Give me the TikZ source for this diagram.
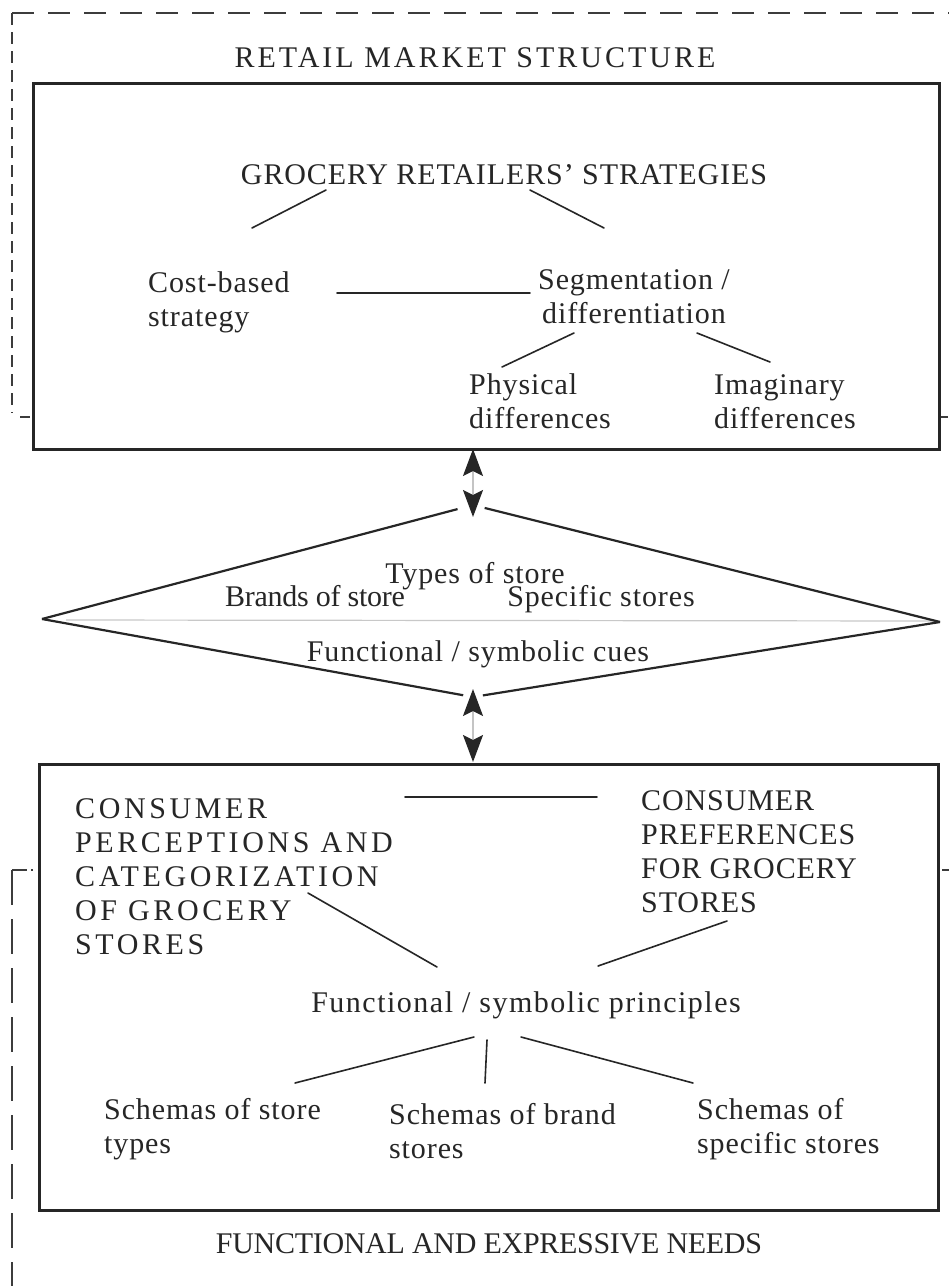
\documentclass[tikz,border=0pt]{standalone}
\usepackage{fontspec}
\setmainfont{Liberation Serif}[LetterSpace=3]
\usetikzlibrary{arrows.meta}
\definecolor{ink}{HTML}{262626}
\definecolor{shaft}{HTML}{C4C4C4}
\definecolor{midline}{HTML}{C8C8C8}

\begin{document}
\begin{tikzpicture}[x=1pt,y=-1pt,
  txt/.style={inner sep=0pt, text=ink, font=\fontsize{30}{34}\selectfont},
  spaced/.style={font=\fontsize{30}{34}\selectfont\addfontfeature{LetterSpace=#1}},
  panel/.style={draw=ink, line width=2.6pt, fill=white},
  link/.style={draw=ink, line width=1.6pt, line cap=round},
  rim/.style={draw=ink, line width=2.2pt},
  dashline/.style={draw=ink!90, line width=2.4pt},
  twoway/.style={draw=shaft, line width=1.6pt,
    {Stealth[length=27pt,width=20pt,inset=5pt,color=ink]}-{Stealth[length=27pt,width=20pt,inset=5pt,color=ink]}}]

\useasboundingbox (0,0) rectangle (949,1286);
\clip (0,0) rectangle (949,1286);

% outer dashed frames
\coordinate (tfTL) at (12,13);
\coordinate (tfTR) at (960,13);
\coordinate (tfBL) at (12,413);
\coordinate (tfB1) at (20,417);
\coordinate (tfBR) at (960,417);
\draw[dashline, dash pattern=on 22pt off 14pt] (tfTL) -- (tfTR);
\draw[dashline, dash pattern=on 12pt off 7pt] (tfTL) -- (tfBL);
\draw[dashline, dash pattern=on 10pt off 8pt] (tfB1) -- (tfBR);

\coordinate (bfTL) at (12,870);
\coordinate (bfTR) at (960,870);
\coordinate (bfBL) at (12,1300);
\draw[dashline, dash pattern=on 15pt off 4pt on 2pt off 10pt] (bfTL) -- (bfTR);
\draw[dashline, dash pattern=on 35pt off 14pt] (bfTL) -- (bfBL);

% the two panels
\node[panel, inner sep=0pt, minimum width=906pt, minimum height=366pt, anchor=north west] (market) at (32,82) {};
\node[panel, inner sep=0pt, minimum width=899pt, minimum height=446pt, anchor=north west] (consumer) at (38,763) {};

% the diamond of store cues
\coordinate (dL) at (42,619);
\coordinate (dT) at (473,505);
\coordinate (dR) at (940,622);
\coordinate (dB) at (473,697);
\coordinate (mL) at (66,620);
\coordinate (mR) at (936,621);
\draw[draw=midline, line width=1.2pt] (mL) -- (mR);
\draw[rim, shorten >=16pt] (dL) -- (dT);
\draw[rim, shorten >=12pt] (dR) -- (dT);
\draw[rim, shorten >=10pt] (dL) -- (dB);
\draw[rim, shorten >=10pt] (dR) -- (dB);

% two-way arrows between the levels
\coordinate (a1) at (473,449);
\coordinate (a2) at (473,517);
\coordinate (a3) at (473,689);
\coordinate (a4) at (473,762);
\draw[twoway] (a1) -- (a2);
\draw[twoway] (a3) -- (a4);

% texts (multi-line nodes are placed by the baseline of their last line)
\node[txt, spaced=10, anchor=base] (retail) at (475,67) {RETAIL MARKET STRUCTURE};
\node[txt, anchor=base] (strat) at (504,184) {GROCERY RETAILERS’ STRATEGIES};
\node[txt, anchor=base west, align=left] (cost) at (148,326) {Cost-based\\strategy};
\node[txt, anchor=base, align=center] (seg) at (634,323) {Segmentation /\\differentiation};
\node[txt, anchor=base west, align=left] (phys) at (469,428) {Physical\\differences};
\node[txt, anchor=base west, align=left] (imag) at (714,428) {Imaginary\\differences};

\node[txt, anchor=base] (types) at (475,583) {Types of store};
\node[txt, spaced=-1, anchor=base] (brands) at (315,606) {Brands of store};
\node[txt, anchor=base] (specific) at (601,606) {Specific stores};
\node[txt, anchor=base] (cues) at (478,661) {Functional / symbolic cues};

\node[txt, spaced=12, anchor=base west, align=left] (percep) at (75,954) {CONSUMER\\PERCEPTIONS AND\\CATEGORIZATION\\OF GROCERY\\STORES};
\node[txt, anchor=base west, align=left] (pref) at (641,912) {CONSUMER\\PREFERENCES\\FOR GROCERY\\STORES};
\node[txt, spaced=5, anchor=base] (princ) at (526,1012) {Functional / symbolic principles};
\node[txt, anchor=base west, align=left] (stypes) at (104,1153) {Schemas of store\\types};
\node[txt, anchor=base west, align=left] (sbrand) at (389,1158) {Schemas of brand\\stores};
\node[txt, anchor=base west, align=left] (sspec) at (697,1153) {Schemas of\\specific stores};
\node[txt, spaced=-1, anchor=base] (needs) at (489,1253) {FUNCTIONAL AND EXPRESSIVE NEEDS};

% connectors
\coordinate (s1) at (326,190); \coordinate (c1) at (252,228);
\coordinate (s2) at (530,190); \coordinate (g1) at (604,228);
\coordinate (c2) at (337,293); \coordinate (g2) at (530,293);
\coordinate (g3) at (574,333); \coordinate (p1) at (502,367);
\coordinate (g4) at (697,333); \coordinate (i1) at (770,362);
\draw[link] (s1) -- (c1);
\draw[link] (s2) -- (g1);
\draw[link] (c2) -- (g2);
\draw[link] (g3) -- (p1);
\draw[link] (g4) -- (i1);

\coordinate (k1) at (405,797); \coordinate (f1) at (597,797);
\coordinate (k2) at (308,893); \coordinate (r1) at (437,967);
\coordinate (f2) at (727,921); \coordinate (r2) at (598,966);
\coordinate (r3) at (474,1037); \coordinate (t1) at (295,1083);
\coordinate (r4) at (487,1040); \coordinate (b1) at (485,1083);
\coordinate (r5) at (521,1037); \coordinate (e1) at (693,1083);
\draw[link] (k1) -- (f1);
\draw[link] (k2) -- (r1);
\draw[link] (f2) -- (r2);
\draw[link] (r3) -- (t1);
\draw[link] (r4) -- (b1);
\draw[link] (r5) -- (e1);
\end{tikzpicture}
\end{document}
